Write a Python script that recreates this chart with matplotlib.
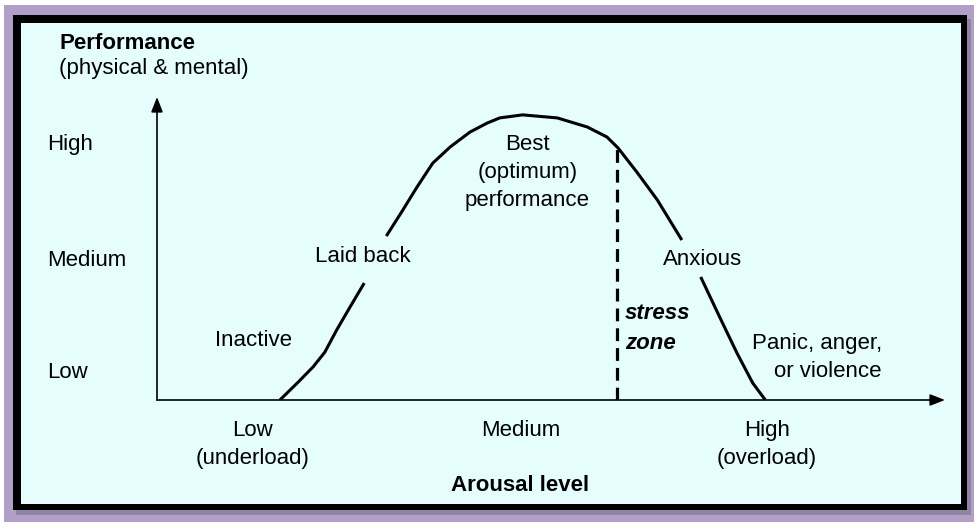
import numpy as np
import matplotlib.pyplot as plt
from matplotlib.patches import Rectangle

plt.rcParams['font.family'] = ['Liberation Sans', 'DejaVu Sans']

# Arousal (0-100 along x) vs performance (0-100 along y).
# NaN breaks the curve where the labels sit on it.
arousal = [15.6, 17.8, 19.8, 21.3, 22.8, 24.5, 26.3, np.nan,
           29.1, 31.2, 33.0, 35.0, 37.2, 39.7, 41.9, 43.5, 46.4, 50.8,
           54.6, 57.1, 58.5, 60.9, 63.5, 66.6, np.nan,
           69.0, 71.4, 73.6, 75.6, 77.2]
performance = [0.0, 5.6, 10.9, 15.8, 23.1, 30.7, 38.6, np.nan,
               54.1, 62.7, 70.3, 78.2, 83.5, 88.4, 91.4, 93.1, 94.1, 93.1,
               90.1, 86.8, 83.2, 75.2, 66.0, 52.8, np.nan,
               40.6, 27.4, 15.5, 5.6, 0.0]

stress_x = 58.4
stress_top = 83.6

y_levels = ['High', 'Medium', 'Low']
y_level_pos = [84.2, 46.2, 9.2]
x_levels = ['Low\n(underload)', 'Medium', 'High\n(overload)']
x_level_pos = [12.1, 46.1, 77.4]

zone_labels = ['Inactive', 'Laid back', 'Best\n(optimum)\nperformance', 'Anxious']
zone_x = [12.2, 26.1, 47.0, 69.2]
zone_y = [19.5, 47.5, 75.0, 46.3]

fig = plt.figure(figsize=(9.74, 5.22), dpi=100)

# frame drawn in pixel coordinates
bg = fig.add_axes([0, 0, 1, 1])
bg.set_xlim(0, 974)
bg.set_ylim(522, 0)
bg.axis('off')
bg.add_patch(Rectangle((4, 5), 970, 517, color='#b19fc7', lw=0))
bg.add_patch(Rectangle((16, 19), 955, 496, color='#8f84a2', lw=0))
bg.add_patch(Rectangle((13, 15), 954, 495, color='black', lw=0))
bg.add_patch(Rectangle((21, 23), 940, 481, color='#e6fdfd', lw=0))

ax = fig.add_axes([157 / 974, 122 / 522, 788 / 974, 303 / 522])
ax.set_xlim(0, 100)
ax.set_ylim(0, 100)
ax.axis('off')
ax.patch.set_alpha(0)

# axes with arrows
ax.annotate('', xy=(0, 100), xytext=(0, 0),
            arrowprops=dict(arrowstyle='-|>,head_length=0.9,head_width=0.35',
                            lw=1.2, color='black', shrinkA=0, shrinkB=0))
ax.annotate('', xy=(100, 0), xytext=(0, 0),
            arrowprops=dict(arrowstyle='-|>,head_length=0.9,head_width=0.35',
                            lw=1.2, color='black', shrinkA=0, shrinkB=0))

ax.plot(arousal, performance, color='black', lw=2.2, solid_capstyle='butt',
        solid_joinstyle='round')
ax.plot([stress_x, stress_x], [0, stress_top], color='black', lw=2.3,
        dashes=(4, 2.2))

fs = 16
for lab, y in zip(y_levels, y_level_pos):
    ax.text(-14.0, y, lab, fontsize=fs, ha='left', va='center', clip_on=False)
for lab, x in zip(x_levels, x_level_pos):
    ax.text(x, -6.5, lab, fontsize=fs, ha='center', va='top',
            linespacing=1.45, clip_on=False)
ax.text(46.1, -28.1, 'Arousal level', fontsize=fs, fontweight='bold',
        ha='center', va='center', clip_on=False)

ax.text(-12.4, 117.5, 'Performance', fontsize=fs, fontweight='bold',
        ha='left', va='center', clip_on=False)
ax.text(-12.4, 109.5, '(physical & mental)', fontsize=fs,
        ha='left', va='center', clip_on=False)

for lab, x, y in zip(zone_labels, zone_x, zone_y):
    ax.text(x, y, lab, fontsize=fs, ha='center', va='center',
            linespacing=1.45)

ax.text(59.4, 23.5, 'stress\nzone', fontsize=fs, fontweight='bold',
        fontstyle='italic', ha='left', va='center', linespacing=1.55)
ax.text(92.0, 14.0, 'Panic, anger,\nor violence', fontsize=fs, ha='right',
        va='center', linespacing=1.45)

fig.savefig('out.png', dpi=100)
